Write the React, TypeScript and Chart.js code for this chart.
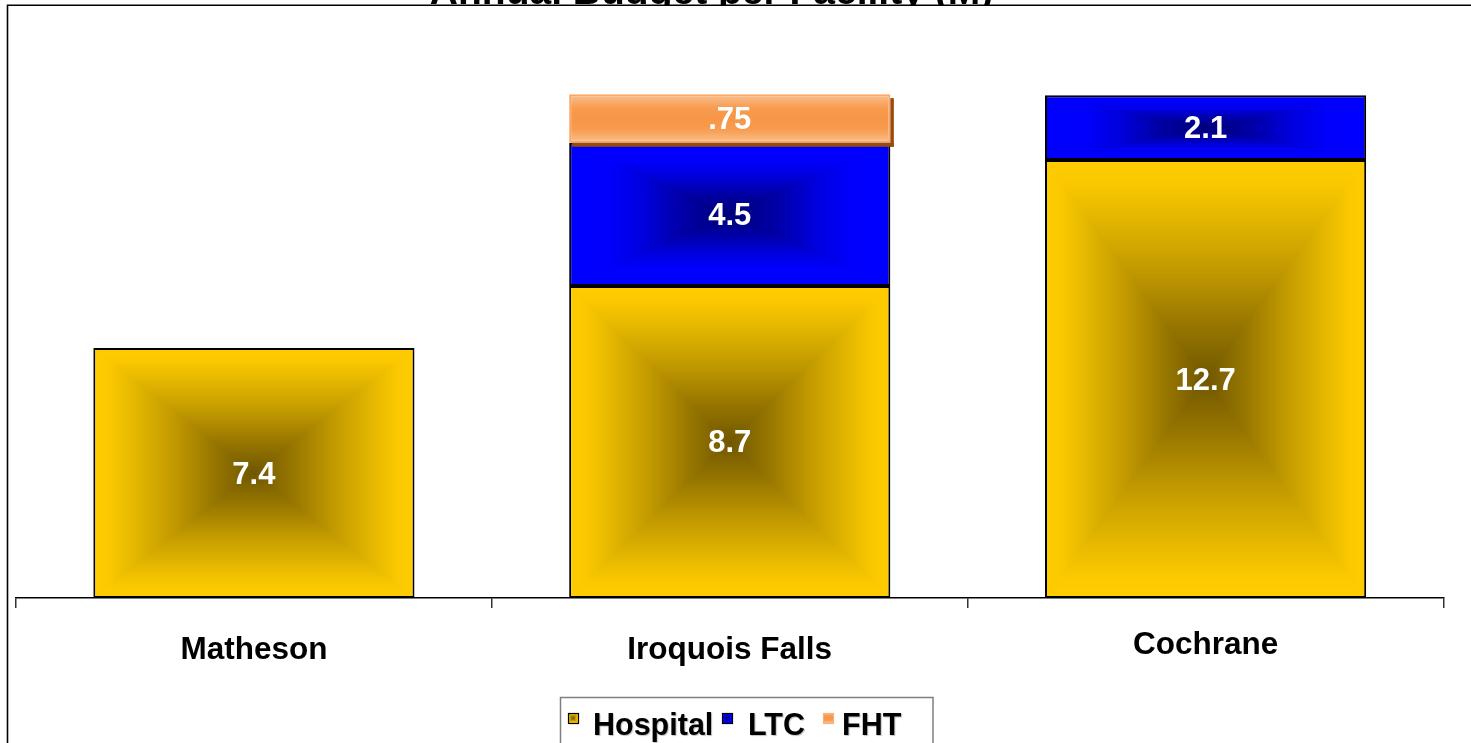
import React, { useEffect, useRef } from "react";
import { Chart, registerables } from "chart.js";

Chart.register(...registerables);

// ---------------- data ----------------
const chartTitle = "Annual Budget per Facility (M)";
const categories = ["Matheson", "Iroquois Falls", "Cochrane"];
const seriesNames = ["Hospital", "LTC", "FHT"];
// bar heights as drawn in the picture (budget, M)
const hospitalValues: (number | null)[] = [7.25, 9.05, 12.7];
const ltcValues: (number | null)[] = [null, 4.15, 1.88];
const fhtValues: (number | null)[] = [null, 1.41, null];
// value labels printed on the bars
const hospitalLabels = ["7.4", "8.7", "12.7"];
const ltcLabels = ["", "4.5", "2.1"];
const fhtLabels = ["", ".75", ""];
const yMax = 15.6;

const FONT = '"Liberation Sans", Arial, Helvetica, sans-serif';

type Stop = [number, [number, number, number]];
const yellowStops: Stop[] = [
  [0, [0x70, 0x57, 0x00]],
  [0.25, [0x98, 0x77, 0x00]],
  [0.5, [0xc2, 0x9a, 0x00]],
  [0.75, [0xe6, 0xb8, 0x00]],
  [0.9, [0xfb, 0xc9, 0x00]],
  [1, [0xff, 0xcc, 0x00]],
];
const blueStops: Stop[] = [
  [0, [0x00, 0x00, 0x78]],
  [0.3, [0x00, 0x00, 0xa8]],
  [0.55, [0x00, 0x00, 0xe0]],
  [0.75, [0x00, 0x00, 0xfc]],
  [1, [0x00, 0x00, 0xff]],
];
const orangeStops: Stop[] = [
  [0, [0xf7, 0x96, 0x46]],
  [0.45, [0xf7, 0x9c, 0x50]],
  [1, [0xfb, 0xc2, 0x92]],
];

function colorAt(stops: Stop[], t: number) {
  if (t <= stops[0][0]) return stops[0][1];
  for (let i = 1; i < stops.length; i++) {
    if (t <= stops[i][0]) {
      const [t0, c0] = stops[i - 1];
      const [t1, c1] = stops[i];
      const f = (t - t0) / (t1 - t0);
      return [
        c0[0] + (c1[0] - c0[0]) * f,
        c0[1] + (c1[1] - c0[1]) * f,
        c0[2] + (c1[2] - c0[2]) * f,
      ];
    }
  }
  return stops[stops.length - 1][1];
}

// kind 0: yellow rectangular, 1: blue rectangular, 2: orange horizontal band
function makeTile(w: number, h: number, kind: number) {
  const c = document.createElement("canvas");
  c.width = w;
  c.height = h;
  const cx = c.getContext("2d")!;
  const img = cx.createImageData(w, h);
  const stops = kind === 0 ? yellowStops : kind === 1 ? blueStops : orangeStops;
  for (let py = 0; py < h; py++) {
    const v = Math.abs((py + 0.5) / h - 0.5) * 2;
    for (let px = 0; px < w; px++) {
      const u = Math.abs((px + 0.5) / w - 0.5) * 2;
      const t = kind === 2 ? v : Math.max(u, v);
      const col = colorAt(stops, t);
      const k = (py * w + px) * 4;
      img.data[k] = col[0];
      img.data[k + 1] = col[1];
      img.data[k + 2] = col[2];
      img.data[k + 3] = 255;
    }
  }
  cx.putImageData(img, 0, 0);
  return c;
}

const fillPlugin = {
  id: "gradientFills",
  beforeDatasetsDraw(chart: any) {
    const ctx = chart.ctx as CanvasRenderingContext2D;
    chart.data.datasets.forEach((ds: any, di: number) => {
      const meta = chart.getDatasetMeta(di);
      meta.data.forEach((el: any, i: number) => {
        if (ds.data[i] == null) return;
        const { x, y, base, width } = el.getProps(["x", "y", "base", "width"], true);
        const left = x - width / 2;
        const top = Math.min(y, base);
        const w = Math.max(1, Math.round(width));
        const h = Math.max(1, Math.round(Math.abs(base - y)));
        const tile = makeTile(w, h, di);
        const pat = ctx.createPattern(tile, "no-repeat")!;
        pat.setTransform(new DOMMatrix([1, 0, 0, 1, left, top]));
        el.options = Object.assign({}, el.options, { backgroundColor: pat });
      });
    });
  },
  afterDatasetsDraw(chart: any) {
    const ctx = chart.ctx as CanvasRenderingContext2D;
    // FHT drop shadow
    const fMeta = chart.getDatasetMeta(2);
    fMeta.data.forEach((el: any, i: number) => {
      if (fhtValues[i] == null) return;
      const { x, y, base, width } = el.getProps(["x", "y", "base", "width"], true);
      const left = x - width / 2;
      const right = x + width / 2;
      const top = Math.min(y, base);
      const bottom = Math.max(y, base);
      ctx.save();
      ctx.fillStyle = "#9a4a0c";
      ctx.fillRect(right, top + 4, 3.5, bottom - top);
      ctx.fillRect(left + 3, bottom, right - left + 0.5, 4);
      ctx.restore();
    });
    // value labels
    const labelSets = [hospitalLabels, ltcLabels, fhtLabels];
    ctx.save();
    ctx.fillStyle = "#ffffff";
    ctx.font = `bold 31px ${FONT}`;
    ctx.textAlign = "center";
    ctx.textBaseline = "middle";
    chart.data.datasets.forEach((ds: any, di: number) => {
      const meta = chart.getDatasetMeta(di);
      meta.data.forEach((el: any, i: number) => {
        if (ds.data[i] == null) return;
        const txt = labelSets[di][i];
        if (!txt) return;
        const { x, y, base } = el.getProps(["x", "y", "base"], true);
        ctx.fillText(txt, x, (y + base) / 2 + 2);
      });
    });
    ctx.restore();
  },
};

const framePlugin = {
  id: "frameAndLegend",
  beforeDraw(chart: any) {
    const ctx = chart.ctx as CanvasRenderingContext2D;
    const W = chart.width;
    const H = chart.height;
    ctx.save();
    ctx.fillStyle = "#ffffff";
    ctx.fillRect(0, 0, W, H);
    // title, clipped by the frame top
    ctx.beginPath();
    ctx.rect(0, 0, W, 5);
    ctx.clip();
    ctx.fillStyle = "#000000";
    ctx.font = `bold 39px ${FONT}`;
    ctx.textAlign = "center";
    ctx.textBaseline = "alphabetic";
    ctx.fillText(chartTitle, 711.5, 4);
    ctx.restore();
    // frame
    ctx.save();
    ctx.strokeStyle = "#000000";
    ctx.lineWidth = 1.6;
    ctx.beginPath();
    ctx.moveTo(7.5, H + 2);
    ctx.lineTo(7.5, 5.2);
    ctx.lineTo(W + 2, 5.2);
    ctx.stroke();
    ctx.restore();
  },
  afterDraw(chart: any) {
    const ctx = chart.ctx as CanvasRenderingContext2D;
    const H = chart.height;
    ctx.save();
    // legend box
    ctx.strokeStyle = "#7f7f7f";
    ctx.lineWidth = 1.5;
    ctx.strokeRect(560.5, 697.5, 372.5, H);
    const items = [
      { sq: 568, tx: 593 },
      { sq: 722, tx: 748 },
      { sq: 823, tx: 842 },
    ];
    items.forEach((it, k) => {
      const tile = makeTile(10, 10, k);
      ctx.drawImage(tile, it.sq, 713);
      ctx.lineWidth = 1.2;
      ctx.strokeStyle = k === 2 ? "#f9b07a" : "#000000";
      ctx.strokeRect(it.sq + 0.5, 713.5, 10, 10);
      ctx.save();
      ctx.shadowColor = "rgba(0,0,0,0.25)";
      ctx.shadowOffsetX = 1;
      ctx.shadowOffsetY = 1;
      ctx.shadowBlur = 1;
      ctx.fillStyle = "#000000";
      ctx.font = `bold 30.5px ${FONT}`;
      ctx.textAlign = "left";
      ctx.textBaseline = "alphabetic";
      ctx.fillText(seriesNames[k], it.tx, 735);
      ctx.restore();
    });
    ctx.restore();
  },
};

export default function App() {
  const ref = useRef<HTMLCanvasElement | null>(null);

  useEffect(() => {
    if (!ref.current) return;
    const chart = new Chart(ref.current, {
      type: "bar",
      data: {
        labels: categories,
        datasets: [
          {
            label: seriesNames[0],
            data: hospitalValues,
            backgroundColor: "#ffcc00",
            borderColor: "#000000",
            borderWidth: 2,
            borderSkipped: false,
            barPercentage: 0.675,
            categoryPercentage: 1,
          },
          {
            label: seriesNames[1],
            data: ltcValues,
            backgroundColor: "#0000ff",
            borderColor: "#000000",
            borderWidth: 2,
            borderSkipped: false,
            barPercentage: 0.675,
            categoryPercentage: 1,
          },
          {
            label: seriesNames[2],
            data: fhtValues,
            backgroundColor: "#f79646",
            borderColor: "#f9a766",
            borderWidth: 2,
            borderSkipped: false,
            barPercentage: 0.675,
            categoryPercentage: 1,
          },
        ] as any,
      },
      options: {
        responsive: false,
        animation: false,
        devicePixelRatio: 1,
        layout: { padding: { left: 16, right: 27.5, top: 60, bottom: 0 } },
        plugins: {
          legend: { display: false },
          title: { display: false },
          tooltip: { enabled: false },
        },
        scales: {
          x: {
            stacked: true,
            offset: true,
            grid: {
              display: true,
              drawOnChartArea: false,
              drawTicks: true,
              tickLength: 10,
              color: "#333333",
              lineWidth: 1.5,
              offset: true,
            },
            border: { display: true, color: "#000000", width: 1.5 },
            ticks: {
              color: "#000000",
              autoSkip: false,
              maxRotation: 0,
              padding: 23,
              font: (c: any) => ({
                family: FONT,
                size: 31.5,
                weight: "bold",
                lineHeight: c.index === 2 ? "28px" : "38px",
              }),
            },
            afterFit: (scale: any) => {
              scale.height = 145;
            },
          },
          y: {
            stacked: true,
            display: false,
            min: 0,
            max: yMax,
          },
        },
      } as any,
      plugins: [framePlugin, fillPlugin],
    });
    return () => chart.destroy();
  }, []);

  return (
    <div style={{ position: "absolute", left: 0, top: 0, width: 1471, height: 743, overflow: "hidden" }}>
      <canvas ref={ref} width={1471} height={743} style={{ display: "block" }} />
    </div>
  );
}
